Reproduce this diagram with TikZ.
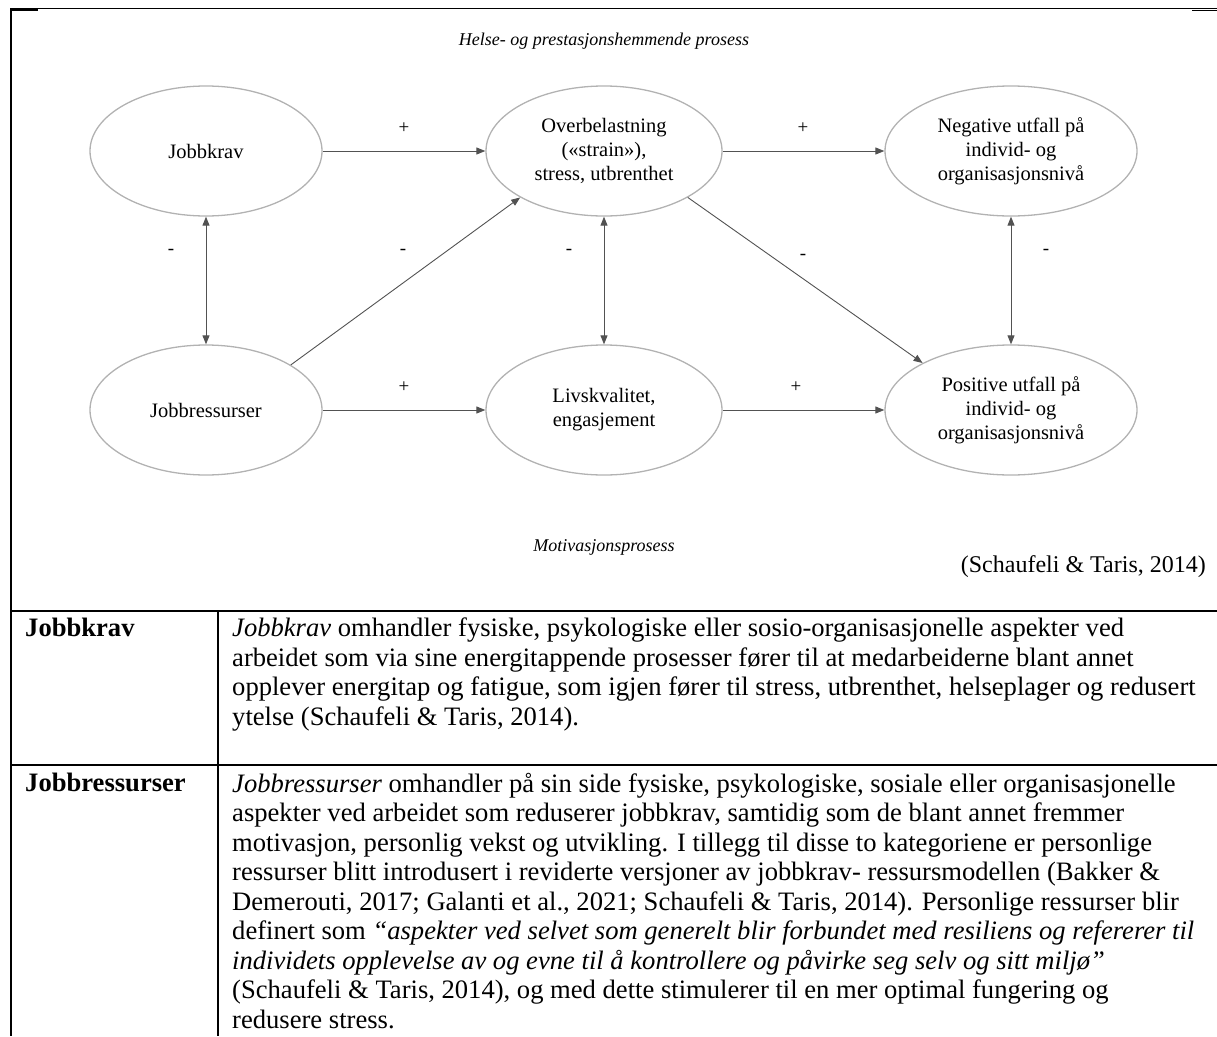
\documentclass[tikz,border=0pt]{standalone}
\usepackage{fontspec}
\setmainfont{Liberation Serif}
\usetikzlibrary{shapes.geometric,arrows.meta}
\begin{document}
\begin{tikzpicture}[x=1pt,y=-1pt,
  concept/.style={ellipse,draw=black!30,line width=1.3pt,inner sep=0pt,align=center,
    font=\fontsize{20.5}{24}\selectfont},
  link/.style={draw=black!68,line width=0.9pt,-{Triangle[length=9pt,width=7pt]}},
  twoway/.style={draw=black!68,line width=0.9pt,
    {Triangle[length=9pt,width=7pt]}-{Triangle[length=9pt,width=7pt]}},
  sign/.style={inner sep=0pt,font=\fontsize{19}{22}\selectfont},
  process/.style={inner sep=0pt,font=\fontsize{18}{22}\itshape},
  rule/.style={line width=1.7pt,black},
  cell/.style={anchor=north west,inner sep=0pt,align=left,font=\fontsize{26.6}{29.5}\selectfont},
]
\useasboundingbox (0,0) rectangle (1217,1036);

% frame and table rules
\draw[rule] (11,8.5) -- (1217,8.5);
\draw[rule] (11,10) -- (38,10);
\draw[rule] (1192,10.5) -- (1217,10.5);
\draw[rule] (11,8) -- (11,1036);
\draw[rule] (11,611) -- (1217,611);
\draw[rule] (11,765) -- (1217,765);
\draw[rule] (218,611) -- (218,1036);

% process titles
\node[process] (ttop) at (604,41) {Helse- og prestasjonshemmende prosess};
\node[process] (tbot) at (604,547) {Motivasjonsprosess};
\node[inner sep=0pt,anchor=east,font=\fontsize{24}{28}\selectfont] (src) at (1206,567) {(Schaufeli \& Taris, 2014)};

% concepts
\node[concept,minimum width=232pt,minimum height=130pt] (jk) at (206,151) {Jobbkrav};
\node[concept,minimum width=236pt,minimum height=130pt] (ob) at (604,151) {Overbelastning\\(«strain»),\\stress, utbrenthet};
\node[concept,minimum width=252pt,minimum height=130pt] (neg) at (1011,151) {Negative utfall på\\individ- og\\organisasjonsnivå};
\node[concept,minimum width=232pt,minimum height=130pt] (jr) at (206,410) {Jobbressurser};
\node[concept,minimum width=236pt,minimum height=130pt] (lk) at (604,410) {Livskvalitet,\\engasjement};
\node[concept,minimum width=252pt,minimum height=130pt] (pos) at (1011,410) {Positive utfall på\\individ- og\\organisasjonsnivå};

% relations
\draw[link] (jk) -- (ob);
\draw[link] (ob) -- (neg);
\draw[link] (jr) -- (lk);
\draw[link] (lk) -- (pos);
\draw[twoway] (jk) -- (jr);
\draw[twoway] (ob) -- (lk);
\draw[twoway] (neg) -- (pos);
\draw[link] (jr.28.7) -- (ob.209);
\draw[link] (ob.-29.3) -- (pos.152);

% signs
\node[sign] (s1) at (404,128) {+};
\node[sign] (s2) at (803,128) {+};
\node[sign] (s3) at (404,387) {+};
\node[sign] (s4) at (796,387) {+};
\node[sign] (s5) at (171,252) {-};
\node[sign] (s6) at (403,252) {-};
\node[sign] (s7) at (569,252) {-};
\node[sign] (s8) at (803,257) {-};
\node[sign] (s9) at (1046,252) {-};

% table
\node[cell,font=\fontsize{26.6}{29.5}\bfseries] (h1) at (25,618) {Jobbkrav};
\node[cell] (d1) at (232,618) {\textit{Jobbkrav} omhandler fysiske, psykologiske eller sosio-organisasjonelle aspekter ved\\
arbeidet som via sine energitappende prosesser fører til at medarbeiderne blant annet\\
opplever energitap og fatigue, som igjen fører til stress, utbrenthet, helseplager og redusert\\
ytelse (Schaufeli \& Taris, 2014).};
\node[cell,font=\fontsize{26.6}{29.5}\bfseries] (h2) at (25,773) {Jobbressurser};
\node[cell] (d2) at (232,773) {\textit{Jobbressurser} omhandler på sin side fysiske, psykologiske, sosiale eller organisasjonelle\\
aspekter ved arbeidet som reduserer jobbkrav, samtidig som de blant annet fremmer\\
motivasjon, personlig vekst og utvikling. I tillegg til disse to kategoriene er personlige\\
ressurser blitt introdusert i reviderte versjoner av jobbkrav- ressursmodellen (Bakker \&\\
Demerouti, 2017; Galanti et al., 2021; Schaufeli \& Taris, 2014). Personlige ressurser blir\\
definert som \textit{“aspekter ved selvet som generelt blir forbundet med resiliens og refererer til}\\
\textit{individets opplevelse av og evne til å kontrollere og påvirke seg selv og sitt miljø”}\\
(Schaufeli \& Taris, 2014), og med dette stimulerer til en mer optimal fungering og\\
redusere stress.};
\end{tikzpicture}
\end{document}
